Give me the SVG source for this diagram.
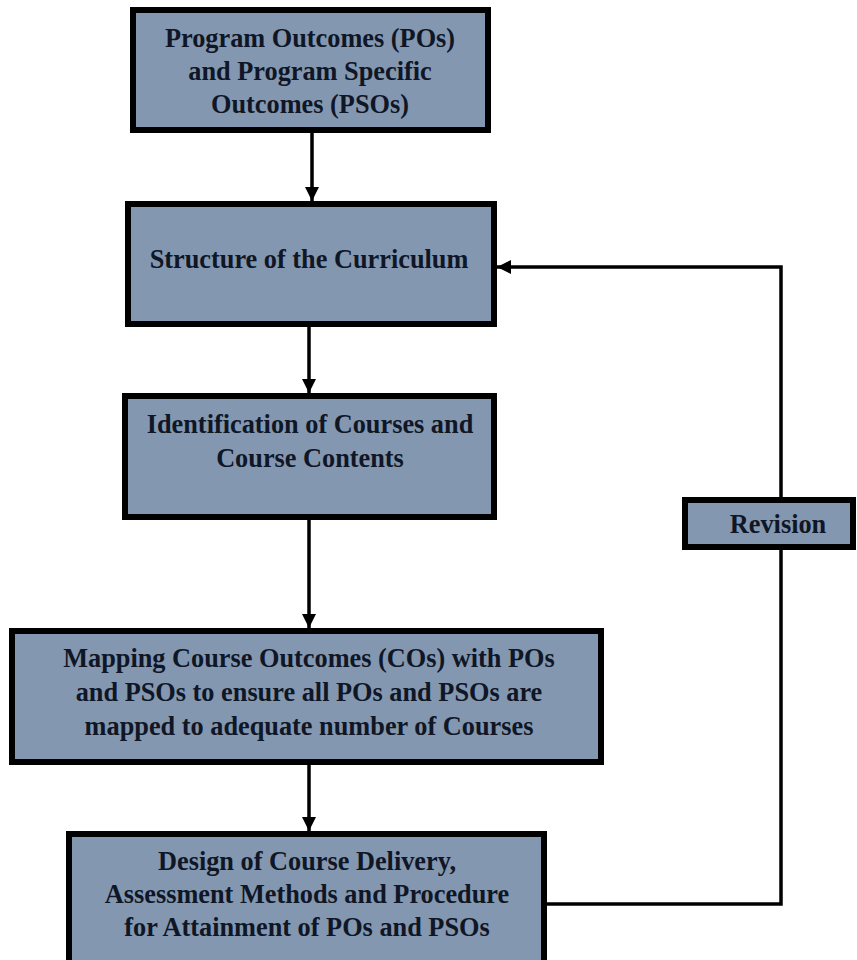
<svg xmlns="http://www.w3.org/2000/svg" width="857" height="960" viewBox="0 0 857 960">
<defs>
<marker id="ah" viewBox="0 0 10 10" refX="10" refY="5" markerWidth="4" markerHeight="4" orient="auto" markerUnits="strokeWidth">
<path d="M0,0 L10,5 L0,10 z" fill="#000"/>
</marker>
<style>
.box{fill:#8497b0;stroke:#000;stroke-width:6}
.t{font-family:"Liberation Serif","Times New Roman",serif;font-weight:bold;font-size:26.3px;fill:#0f1626;text-anchor:middle}
.c{fill:none;stroke:#000;stroke-width:3.5}
</style>
</defs>
<rect width="857" height="960" fill="#fff"/>
<g id="connectors">
<line class="c" x1="312" y1="133" x2="312" y2="201" marker-end="url(#ah)"/>
<line class="c" x1="309" y1="327" x2="309" y2="393" marker-end="url(#ah)"/>
<line class="c" x1="309" y1="520" x2="309" y2="628" marker-end="url(#ah)"/>
<line class="c" x1="309" y1="765" x2="309" y2="831" marker-end="url(#ah)"/>
<polyline class="c" points="547,904 781,904 781,267 497,267" marker-end="url(#ah)"/>
</g>
<g id="pos">
<rect class="box" x="133" y="10" width="355" height="120"/>
<text class="t" x="310" y="47">Program Outcomes (POs)</text>
<text class="t" x="310" y="80">and Program Specific</text>
<text class="t" x="310" y="113">Outcomes (PSOs)</text>
</g>
<g id="structure">
<rect class="box" x="128" y="204" width="366" height="120"/>
<text class="t" x="309" y="268">Structure of the Curriculum</text>
</g>
<g id="identification">
<rect class="box" x="125" y="396" width="369" height="121"/>
<text class="t" x="310" y="433">Identification of Courses and</text>
<text class="t" x="310" y="467">Course Contents</text>
</g>
<g id="mapping">
<rect class="box" x="12" y="631" width="589" height="131"/>
<text class="t" x="309" y="667">Mapping Course Outcomes (COs) with POs</text>
<text class="t" x="309" y="701">and PSOs to ensure all POs and PSOs are</text>
<text class="t" x="309" y="735">mapped to adequate number of Courses</text>
</g>
<g id="design">
<rect class="box" x="69" y="834" width="475" height="132"/>
<text class="t" x="307" y="870">Design of Course Delivery,</text>
<text class="t" x="307" y="903">Assessment Methods and Procedure</text>
<text class="t" x="307" y="936">for Attainment of POs and PSOs</text>
</g>
<g id="revision">
<rect class="box" x="685" y="500" width="168" height="47"/>
<text class="t" x="778" y="533">Revision</text>
</g>
</svg>
